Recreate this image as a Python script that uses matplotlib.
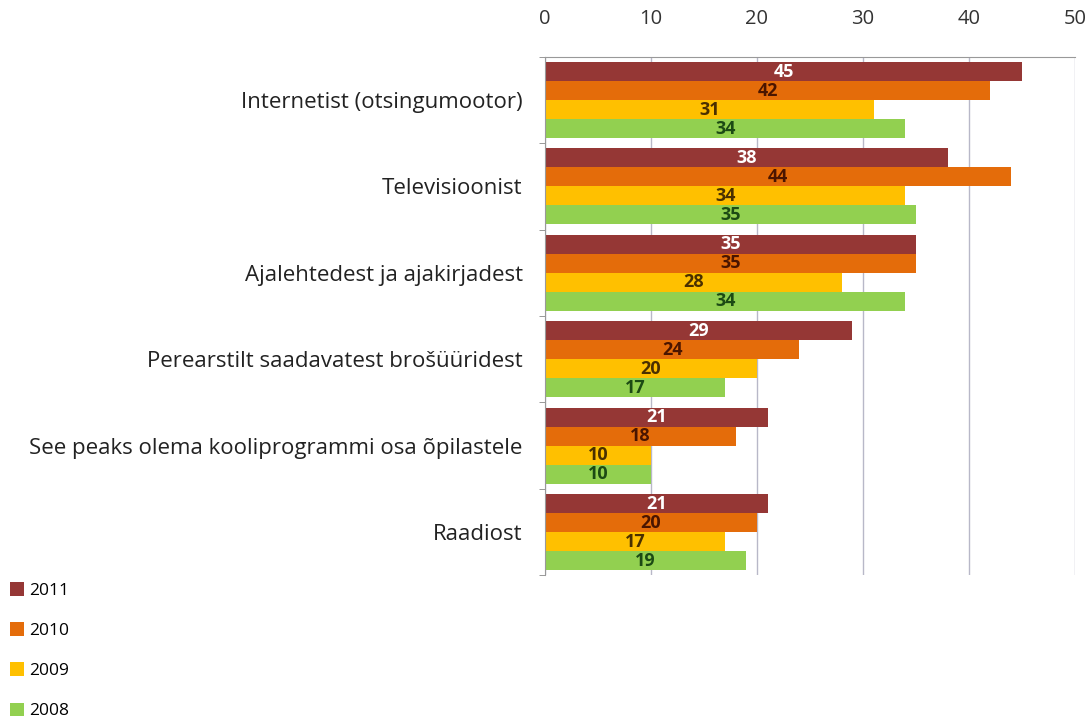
import matplotlib.pyplot as plt
import numpy as np

plt.rcParams['font.family'] = ['Open Sans', 'DejaVu Sans']

categories = [
    "Internetist (otsingumootor)",
    "Televisioonist",
    "Ajalehtedest ja ajakirjadest",
    "Perearstilt saadavatest brošüüridest",
    "See peaks olema kooliprogrammi osa õpilastele",
    "Raadiost",
]
years = ["2011", "2010", "2009", "2008"]
v2011 = [45, 38, 35, 29, 21, 21]
v2010 = [42, 44, 35, 24, 18, 20]
v2009 = [31, 34, 28, 20, 10, 17]
v2008 = [34, 35, 34, 17, 10, 19]
series = [v2011, v2010, v2009, v2008]

bar_colors = ["#953735", "#e46c0a", "#ffc000", "#92d050"]
text_colors = ["white", "#4a1500", "#4a3000", "#1c4a14"]

fig = plt.figure(figsize=(10.89, 7.2), dpi=100)
ax = fig.add_axes([0.5005, 0.201, 0.4865, 0.72])

n = len(categories)
h = 0.22
y = np.arange(n)
for i, (vals, col, tcol) in enumerate(zip(series, bar_colors, text_colors)):
    ypos = y - 1.5 * h + i * h
    ax.barh(ypos, vals, height=h, color=col, label=years[i], zorder=2)
    for yy, v in zip(ypos, vals):
        ax.text(v / 2, yy, str(v), ha='center', va='center', color=tcol,
                fontsize=13, fontweight='bold', zorder=3)

ax.set_xlim(0, 50)
ax.set_ylim(n - 0.5, -0.5)
ax.xaxis.tick_top()
ax.set_xticks(range(0, 51, 10))
ax.tick_params(axis='x', length=0, labelsize=14.5, labelcolor='#333333', pad=20)
ax.set_yticks(y)
ax.set_yticklabels(categories)
ax.tick_params(axis='y', length=0, labelsize=16, labelcolor='#222222', pad=16)
ax.set_yticks(np.arange(-0.5, n, 1.0), minor=True)
ax.tick_params(axis='y', which='minor', length=4, color='#888888')
ax.grid(axis='x', color='#b8b8c8', linewidth=1, zorder=0)
for s in ['right', 'bottom']:
    ax.spines[s].set_visible(False)
ax.spines['top'].set_color('#999999')
ax.spines['left'].set_color('#999999')

handles, labels = ax.get_legend_handles_labels()
fig.legend(handles, labels, loc='upper left', bbox_to_anchor=(-0.005, 0.213),
           frameon=False, fontsize=12.5, handlelength=0.8, handleheight=0.8,
           labelspacing=1.35, handletextpad=0.3)

fig.savefig('out.png', dpi=100)
